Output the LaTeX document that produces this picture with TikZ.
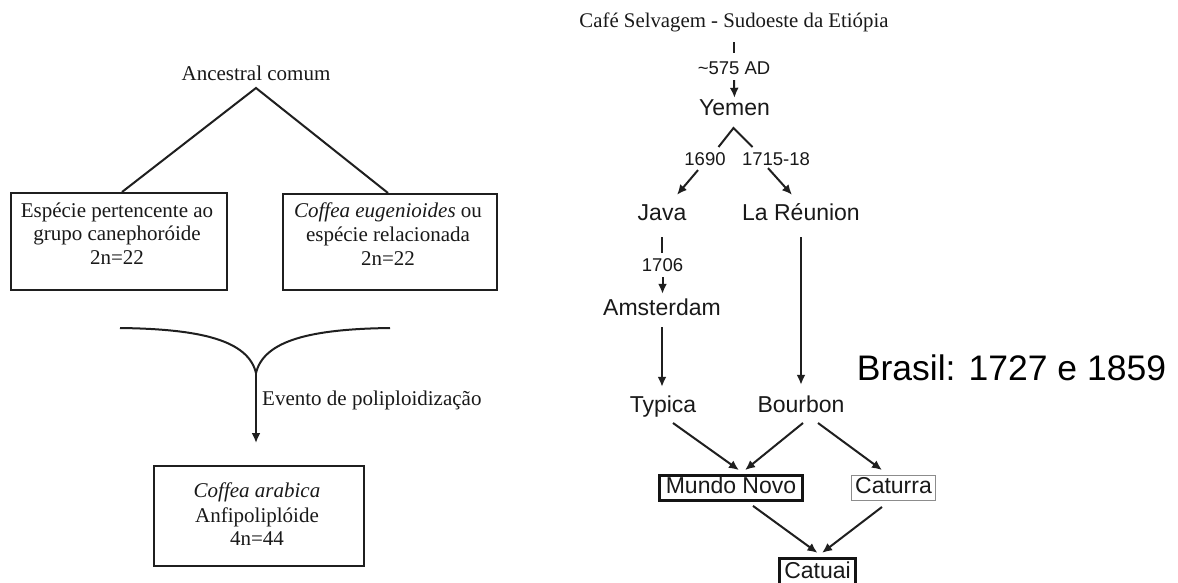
\documentclass[tikz,border=0pt]{standalone}
\usepackage{fontspec}
\setmainfont{Liberation Serif}
\newfontfamily\arialf{Liberation Sans}
\usetikzlibrary{arrows.meta,calc}
\tikzset{
  serif/.style={font=\fontsize{21}{23}\selectfont, inner sep=0pt, anchor=base, text height=14pt, text depth=4.5pt, text=black!90},
  sanslbl/.style={font=\arialf\fontsize{23}{26}\selectfont, inner sep=0pt, anchor=base, text height=16.5pt, text depth=4.8pt, text=black!90},
  yearlbl/.style={font=\arialf\fontsize{18.5}{20}\selectfont, inner sep=0pt, anchor=base, text height=13.2pt, text depth=3.9pt, text=black!90},
  sbox/.style={draw=black!88, line width=2pt, inner sep=0pt},
  vbox/.style={font=\arialf\fontsize{23}{26}\selectfont, inner sep=0pt, text height=16.5pt, text depth=4.8pt, text=black!90, draw=black!92, line width=2.8pt},
  tbox/.style={font=\arialf\fontsize{23}{26}\selectfont, inner sep=0pt, text height=16.5pt, text depth=4.8pt, text=black!90, draw=black!45, line width=0.9pt},
  link/.style={line width=2pt, draw=black!88},
  arr/.style={link, -{Latex[length=10pt,width=9pt]}}
}
\begin{document}
\begin{tikzpicture}[x=1pt,y=-1pt]
\useasboundingbox[fill=white] (0,0) rectangle (1178,582);
% ---------- left diagram ----------
\node[serif] (anc) at (256,80) {Ancestral comum};
\coordinate (apex) at (256,88);
\node[sbox, minimum width=216pt, minimum height=97pt] (lbox) at (119,241.5) {};
\node[serif] (l1) at (117,217) {Espécie pertencente ao};
\node[serif] (l2) at (117,240) {grupo canephoróide};
\node[serif] (l3) at (117,264) {2n=22};
\node[sbox, minimum width=214pt, minimum height=96pt] (rbox) at (390,242) {};
\node[serif] (r1) at (388,217) {\textit{Coffea eugenioides} ou};
\node[serif] (r2) at (388,241) {espécie relacionada};
\node[serif] (r3) at (388,265) {2n=22};
\draw[link] ($(lbox.north)+(3,0)$) -- (apex) -- ($(rbox.north)+(-2,0)$);
\coordinate (cl) at (120,328);
\coordinate (cr) at (390,328);
\coordinate (meet) at (256,373);
\draw[link] (cl) .. controls (200,329) and (248,340) .. (meet)
            .. controls (264,340) and (312,329) .. (cr);
\node[sbox, minimum width=210pt, minimum height=100pt] (bbox) at (259,516) {};
\draw[arr] (meet) -- ($(bbox.north)+(-3,-22)$);
\node[serif, anchor=base west] (evt) at (262,405) {Evento de poliploidização};
\node[serif] (b1) at (257,497) {\textit{Coffea arabica}};
\node[serif] (b2) at (257,522) {Anfipoliplóide};
\node[serif] (b3) at (257,545) {4n=44};
% ---------- right diagram ----------
\node[serif, font=\fontsize{20.8}{23}\selectfont] (cafe) at (734,27) {Café Selvagem - Sudoeste da Etiópia};
\node[yearlbl] (ad) at (734,74) {\textasciitilde575 AD};
\draw[link, shorten <=10.5pt, shorten >=7.8pt] (cafe.south) -- (ad.north);
\node[sanslbl] (yemen) at (734.5,115) {Yemen};
\draw[arr, shorten <=2pt, shorten >=0.5pt] (ad.south) -- (yemen.north);
\draw[link] ($(yemen.south)+(-16,27)$) -- ($(yemen.south)+(-1,8)$) -- ($(yemen.south)+(18,27)$);
\node[yearlbl] (y1690) at (705,165) {1690};
\node[yearlbl] (y1715) at (776,165) {1715-18};
\node[sanslbl] (java) at (662,220) {Java};
\node[sanslbl] (reunion) at (801,220) {La Réunion};
\draw[arr] ($(y1690.south)+(-7,1)$) -- ($(java.north)+(15,-8.5)$);
\draw[arr] ($(y1715.south)+(-8,-1)$) -- ($(reunion.north)+(-9,-8.5)$);
\node[yearlbl] (y1706) at (662.5,271) {1706};
\draw[link, shorten <=12pt, shorten >=5pt] (java.south) -- (java.south |- y1706.north);
\node[sanslbl] (ams) at (662,315) {Amsterdam};
\draw[arr, shorten <=2pt, shorten >=4.5pt] (y1706.south) -- (y1706.south |- ams.north);
\node[sanslbl] (typica) at (663,412) {Typica};
\node[sanslbl] (bourbon) at (801,412) {Bourbon};
\draw[arr, shorten <=7pt, shorten >=8.5pt] (ams.south) -- (ams.south |- typica.north);
\draw[arr, shorten <=12pt, shorten >=10.5pt] (reunion.south) -- (reunion.south |- bourbon.north);
\node[vbox, minimum width=143pt, minimum height=25pt] (mundo) at (731,488) {Mundo Novo};
\node[tbox, minimum width=84pt, minimum height=25pt] (caturra) at (893.5,488) {Caturra};
\node[vbox, minimum width=76pt, minimum height=28.5pt] (catuai) at (817.5,572.5) {Catuai};
\draw[arr] ($(typica.south)+(10,6)$) -- ($(mundo.north)+(8,-4)$);
\draw[arr] ($(bourbon.south)+(2,6)$) -- ($(mundo.north)+(14,-4)$);
\draw[arr] ($(bourbon.south)+(17,6)$) -- ($(caturra.north)+(-11.5,-5)$);
\draw[arr] ($(mundo.south)+(22,4)$) -- ($(catuai.north)+(0,-4)$);
\draw[arr] ($(caturra.south)+(-11.5,6)$) -- ($(catuai.north)+(4.5,-4)$);
\node[font=\arialf\fontsize{35.5}{40}\selectfont, inner sep=0pt, anchor=base] (brasil) at (1011.5,380) {Brasil: 1727 e 1859};
\end{tikzpicture}
\end{document}
